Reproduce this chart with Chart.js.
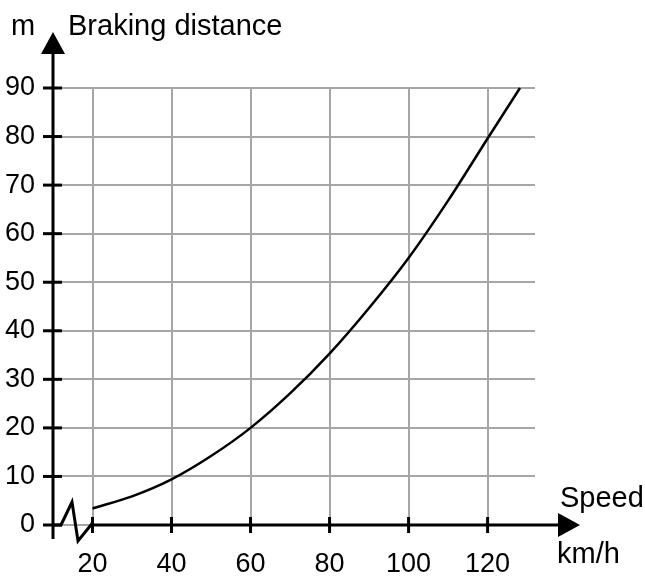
<!DOCTYPE html>
<html>
<head>
<meta charset="utf-8">
<script src="https://cdn.jsdelivr.net/npm/chart.js@4/dist/chart.umd.min.js"></script>
<style>
  html, body { margin: 0; padding: 0; background: #fff; }
  #wrap { width: 645px; height: 576px; }
</style>
</head>
<body>
<div id="wrap"><canvas id="grafico" width="645" height="576"></canvas></div>
<script>
// valori
const velocita = [20, 30, 40, 50, 60, 70, 80, 90, 100, 110, 120, 128.2];
const distanza = [3.4, 5.9, 9.4, 14.2, 20, 27.1, 35.3, 44.7, 55, 66.8, 79.6, 90];
const tickX = [20, 40, 60, 80, 100, 120];
const tickY = [0, 10, 20, 30, 40, 50, 60, 70, 80, 90];

const FONT = "'Liberation Sans', Arial, Helvetica, sans-serif";

// assi con frecce, tacche e spezzata sull'asse x
const assiPlugin = {
    id: "assi",
    afterDraw(chart) {
        const ctx = chart.ctx;
        const sx = chart.scales.x;
        const sy = chart.scales.y;
        const x0 = chart.chartArea.left;
        const y0 = sy.getPixelForValue(0);
        const xStart = sx.getPixelForValue(20);

        ctx.save();
        ctx.strokeStyle = "#000";
        ctx.fillStyle = "#000";
        ctx.lineWidth = 3;
        ctx.lineJoin = "miter";

        // asse y
        ctx.beginPath();
        ctx.moveTo(x0, y0 + 14);
        ctx.lineTo(x0, 54);
        ctx.stroke();
        ctx.beginPath();
        ctx.moveTo(x0, 32);
        ctx.lineTo(x0 - 12, 54);
        ctx.lineTo(x0 + 12, 54);
        ctx.closePath();
        ctx.fill();

        // tacche y
        tickY.forEach(v => {
            const y = sy.getPixelForValue(v);
            ctx.beginPath();
            ctx.moveTo(x0 - 10, y);
            ctx.lineTo(x0 + 9, y);
            ctx.stroke();
        });

        // spezzata
        ctx.beginPath();
        ctx.moveTo(x0, y0);
        ctx.lineTo(x0 + 8, y0);
        ctx.lineTo(x0 + 19, y0 - 23);
        ctx.lineTo(x0 + 25, y0 + 16);
        ctx.lineTo(xStart, y0 - 2);
        ctx.stroke();

        // asse x
        ctx.beginPath();
        ctx.moveTo(xStart, y0);
        ctx.lineTo(562, y0);
        ctx.stroke();
        ctx.beginPath();
        ctx.moveTo(580, y0);
        ctx.lineTo(558, y0 - 12);
        ctx.lineTo(558, y0 + 12);
        ctx.closePath();
        ctx.fill();

        // tacche x
        tickX.forEach(v => {
            const x = sx.getPixelForValue(v);
            ctx.beginPath();
            ctx.moveTo(x, y0 - 8);
            ctx.lineTo(x, y0 + 8);
            ctx.stroke();
        });

        // etichette
        ctx.font = "29px " + FONT;
        ctx.textBaseline = "alphabetic";
        ctx.textAlign = "left";
        ctx.fillText("m", 11, 35);
        ctx.fillText("Braking distance", 68, 35);
        ctx.fillText("Speed", 560, 507);
        ctx.fillText("km/h", 557, 563);
        ctx.restore();
    }
};

new Chart(document.getElementById("grafico").getContext("2d"), {
    type: "line",
    data: {
        labels: velocita,
        datasets: [{
            label: "Braking distance",
            data: velocita.map((v, i) => ({ x: v, y: distanza[i] })),
            borderColor: "#000",
            borderWidth: 2.5,
            pointRadius: 0,
            fill: false,
            tension: 0.3,
            clip: false
        }]
    },
    options: {
        responsive: false,
        animation: false,
        layout: { padding: { left: 5, right: 110, top: 88, bottom: 4 } },
        plugins: {
            legend: { display: false },
            tooltip: { enabled: false }
        },
        scales: {
            x: {
                type: "linear",
                min: 10,
                max: 132,
                afterBuildTicks: scale => { scale.ticks = tickX.map(v => ({ value: v })); },
                afterFit: scale => { scale.height = 47; },
                border: { display: false },
                grid: { color: "#a6a6a6", lineWidth: 2, drawTicks: false },
                ticks: {
                    color: "#000",
                    font: { family: FONT, size: 27 },
                    padding: 23,
                    maxRotation: 0
                }
            },
            y: {
                type: "linear",
                min: 0,
                max: 90,
                afterBuildTicks: scale => { scale.ticks = tickY.map(v => ({ value: v })); },
                afterFit: scale => { scale.width = 48; },
                border: { display: false },
                grid: { color: "#a6a6a6", lineWidth: 2, drawTicks: false },
                ticks: {
                    color: "#000",
                    font: { family: FONT, size: 27 },
                    padding: 18
                }
            }
        }
    },
    plugins: [assiPlugin]
});
</script>
</body>
</html>
